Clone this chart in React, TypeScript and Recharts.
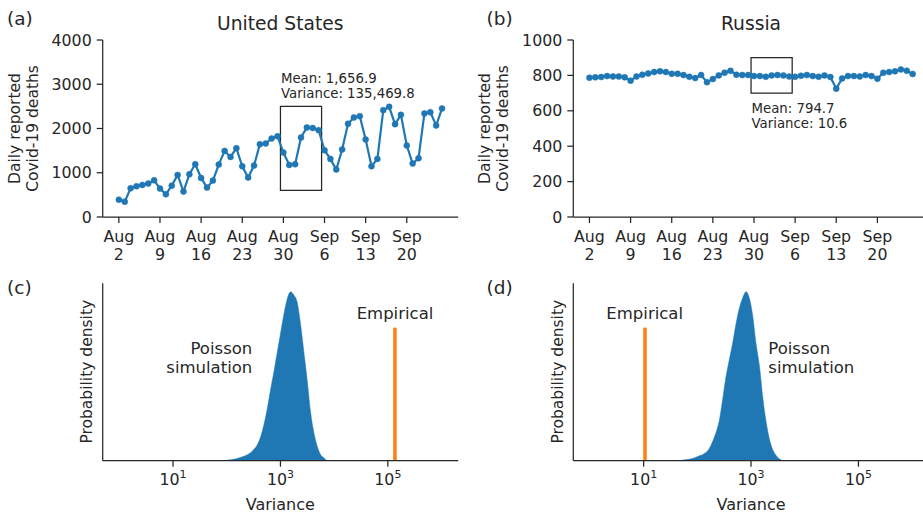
import {
  LineChart,
  Line,
  AreaChart,
  Area,
  XAxis,
  YAxis,
  ReferenceArea,
  ReferenceLine,
} from "recharts";

const FONT = "DejaVu Sans";
const INK = "#262626";
const BLUE = "#1f77b4";
const ORANGE = "#ff7f0e";

// daily reported deaths, Aug 2 .. Sep 26
const US_DEATHS = [
  392, 347, 649, 694, 725, 755, 830, 642, 513, 709, 951, 574, 966, 1192, 883,
  664, 823, 1185, 1494, 1358, 1555, 1147, 891, 1162, 1645, 1660, 1774, 1826,
  1457, 1177, 1192, 1796, 2023, 2010, 1962, 1509, 1313, 1072, 1525, 2106, 2249,
  2279, 1751, 1147, 1313, 2415, 2491, 2098, 2309, 1615, 1208, 1328, 2340, 2370,
  2068, 2453,
];
const RU_DEATHS = [
  787, 789, 791, 796, 794, 794, 789, 770, 794, 804, 811, 819, 823, 819, 809,
  809, 802, 792, 785, 802, 762, 779, 800, 815, 826, 804, 802, 802, 796, 796,
  792, 800, 802, 800, 794, 792, 798, 802, 796, 792, 800, 791, 725, 783, 796,
  796, 794, 802, 796, 781, 815, 819, 823, 834, 826, 808,
];

const X_TICK_DAYS = [0, 7, 14, 21, 28, 35, 42, 49];
const X_TICK_LABELS = [
  ["Aug", "2"],
  ["Aug", "9"],
  ["Aug", "16"],
  ["Aug", "23"],
  ["Aug", "30"],
  ["Sep", "6"],
  ["Sep", "13"],
  ["Sep", "20"],
];
const US_Y_TICKS = [0, 1000, 2000, 3000, 4000];
const RU_Y_TICKS = [0, 200, 400, 600, 800, 1000];

// highlighted week (day index), Aug 30 .. Sep 5
const WINDOW = [28, 34];
const US_BOX_Y = [600, 2500];
const RU_BOX_Y = [700, 900];
const US_STATS = ["Mean: 1,656.9", "Variance: 135,469.8"];
const RU_STATS = ["Mean: 794.7", "Variance: 10.6"];

// simulated variance histogram (log10 of variance, density scaled to peak)
const US_SIM_LOGVAR = [
  2.01, 2.13, 2.22, 2.32, 2.41, 2.5, 2.57, 2.63, 2.69, 2.75, 2.81, 2.88, 2.94,
  3.0, 3.06, 3.12, 3.19, 3.25, 3.31, 3.37, 3.43, 3.5, 3.56, 3.62, 3.68, 3.74,
  3.81, 3.86,
];
const US_SIM_DENSITY = [
  0.004, 0.008, 0.016, 0.026, 0.04, 0.065, 0.095, 0.14, 0.21, 0.3, 0.41, 0.53,
  0.64, 0.75, 0.86, 0.95, 1.0, 0.98, 0.94, 0.82, 0.66, 0.47, 0.29, 0.17, 0.09,
  0.04, 0.016, 0,
];
const RU_SIM_LOGVAR = [
  1.72, 1.84, 1.94, 2.03, 2.12, 2.22, 2.28, 2.34, 2.41, 2.47, 2.53, 2.59, 2.66,
  2.72, 2.78, 2.84, 2.91, 2.97, 3.03, 3.09, 3.16, 3.22, 3.28, 3.34, 3.41, 3.47,
  3.53, 3.59,
];
const RU_SIM_DENSITY = [
  0.004, 0.008, 0.016, 0.028, 0.04, 0.07, 0.11, 0.16, 0.24, 0.36, 0.49, 0.59,
  0.7, 0.81, 0.9, 0.96, 1.0, 0.96, 0.86, 0.7, 0.55, 0.37, 0.23, 0.13, 0.06,
  0.03, 0.01, 0,
];
const US_EMPIRICAL_VAR = 135469.8;
const RU_EMPIRICAL_VAR = 10.6;
const POW_TICKS = [1, 3, 5];

const usRows = US_DEATHS.map((v, i) => ({ day: i, deaths: v }));
const ruRows = RU_DEATHS.map((v, i) => ({ day: i, deaths: v }));
const usHist = US_SIM_LOGVAR.map((x, i) => ({ x, d: US_SIM_DENSITY[i] }));
const ruHist = RU_SIM_LOGVAR.map((x, i) => ({ x, d: RU_SIM_DENSITY[i] }));

const DAY_DOMAIN = [-2.75, 57.75];
const LOG_DOMAIN = [-0.31, 6.31];
const HIST_TOP = 1.05;

const tickStyle = { fill: INK, fontSize: 15.8, fontFamily: FONT };

function DateTick(props: any) {
  const { x, y, payload } = props;
  const [m, d] = X_TICK_LABELS[X_TICK_DAYS.indexOf(payload.value)] || ["", ""];
  return (
    <text x={x} y={y} textAnchor="middle" {...tickStyle}>
      <tspan x={x} dy={17}>
        {m}
      </tspan>
      <tspan x={x} dy={17.5}>
        {d}
      </tspan>
    </text>
  );
}

function PowTick(props: any) {
  const { x, y, payload } = props;
  return (
    <text x={x} y={y + 16.3} textAnchor="middle" {...tickStyle}>
      10
      <tspan dy={-7} fontSize={11}>
        {payload.value}
      </tspan>
    </text>
  );
}

function statsLabel(lines: string[], above: boolean) {
  return (p: any) => {
    const vb = p.viewBox || {};
    const base = above ? vb.y - 23.3 : vb.y + vb.height + 20.3;
    return (
      <text fill={INK} fontSize={13.3} fontFamily={FONT}>
        <tspan x={vb.x + 0.5} y={base}>
          {lines[0]}
        </tspan>
        <tspan x={vb.x + 0.5} y={base + 14.5}>
          {lines[1]}
        </tspan>
      </text>
    );
  };
}

function DeathsPanel({
  rows,
  ticks,
  yMax,
  boxY,
  stats,
  above,
  yWidth,
}: {
  rows: { day: number; deaths: number }[];
  ticks: number[];
  yMax: number;
  boxY: number[];
  stats: string[];
  above: boolean;
  yWidth: number;
}) {
  return (
    <LineChart
      width={470}
      height={265}
      data={rows}
      margin={{ top: 40, right: 470 - yWidth - 355.5, bottom: 8, left: 0 }}
    >
      <XAxis
        dataKey="day"
        type="number"
        domain={DAY_DOMAIN}
        allowDataOverflow
        ticks={X_TICK_DAYS}
        interval={0}
        tick={<DateTick />}
        tickSize={6}
        tickMargin={2}
        height={40}
        stroke={INK}
        strokeWidth={1.25}
      />
      <YAxis
        type="number"
        domain={[0, yMax]}
        ticks={ticks}
        interval={0}
        width={yWidth}
        tick={tickStyle}
        tickSize={6}
        tickMargin={5}
        stroke={INK}
        strokeWidth={1.25}
      />
      <ReferenceArea
        x1={WINDOW[0] - 0.5}
        x2={WINDOW[1] + 0.5}
        y1={boxY[0]}
        y2={boxY[1]}
        fill="none"
        stroke={INK}
        strokeWidth={1.25}
        fillOpacity={0}
        label={statsLabel(stats, above)}
      />
      <Line
        dataKey="deaths"
        stroke={BLUE}
        strokeWidth={2.2}
        dot={{ r: 3, fill: BLUE, stroke: BLUE, strokeWidth: 0.5 }}
        activeDot={false}
        isAnimationActive={false}
      />
    </LineChart>
  );
}

function HistPanel({
  rows,
  empirical,
  yWidth,
}: {
  rows: { x: number; d: number }[];
  empirical: number;
  yWidth: number;
}) {
  const ex = Math.log10(empirical);
  return (
    <AreaChart
      width={470}
      height={247}
      data={rows}
      margin={{ top: 13.3, right: 470 - yWidth - 355.5, bottom: 6.3, left: 0 }}
    >
      <XAxis
        dataKey="x"
        type="number"
        domain={LOG_DOMAIN}
        allowDataOverflow
        ticks={POW_TICKS}
        interval={0}
        tick={<PowTick />}
        tickSize={6}
        tickMargin={2}
        height={50}
        stroke={INK}
        strokeWidth={1.25}
      />
      <YAxis
        type="number"
        domain={[0, HIST_TOP]}
        allowDataOverflow
        tick={false}
        tickLine={false}
        width={yWidth}
        stroke={INK}
        strokeWidth={1.25}
      />
      <Area
        dataKey="d"
        type="monotone"
        stroke={BLUE}
        strokeWidth={0.5}
        fill={BLUE}
        fillOpacity={1}
        dot={false}
        activeDot={false}
        isAnimationActive={false}
      />
      <ReferenceLine
        segment={[
          { x: ex, y: 0 },
          { x: ex, y: HIST_TOP * 0.75 },
        ]}
        stroke={ORANGE}
        strokeWidth={3.5}
      />
    </AreaChart>
  );
}

function Txt(props: any) {
  const { children, ...rest } = props;
  return (
    <text fill={INK} fontFamily={FONT} fontSize={15.5} {...rest}>
      {children}
    </text>
  );
}

function RotLabel({ x, y, text }: { x: number; y: number; text: string }) {
  return (
    <Txt x={x} y={y} textAnchor="middle" transform={`rotate(-90 ${x} ${y})`}>
      {text}
    </Txt>
  );
}

export default function App() {
  return (
    <div
      style={{
        position: "absolute",
        left: 0,
        top: 0,
        width: 923,
        height: 517,
        overflow: "hidden",
        background: "#fff",
      }}
    >
      <div style={{ position: "absolute", left: 0, top: 0 }}>
        <DeathsPanel
          rows={usRows}
          ticks={US_Y_TICKS}
          yMax={4000}
          boxY={US_BOX_Y}
          stats={US_STATS}
          above
          yWidth={102.7}
        />
      </div>
      <div style={{ position: "absolute", left: 470, top: 0 }}>
        <DeathsPanel
          rows={ruRows}
          ticks={RU_Y_TICKS}
          yMax={1000}
          boxY={RU_BOX_Y}
          stats={RU_STATS}
          above={false}
          yWidth={103.3}
        />
      </div>
      <div style={{ position: "absolute", left: 0, top: 270 }}>
        <HistPanel rows={usHist} empirical={US_EMPIRICAL_VAR} yWidth={102.7} />
      </div>
      <div style={{ position: "absolute", left: 470, top: 270 }}>
        <HistPanel rows={ruHist} empirical={RU_EMPIRICAL_VAR} yWidth={103.3} />
      </div>
      <svg
        width={923}
        height={517}
        style={{ position: "absolute", left: 0, top: 0, pointerEvents: "none" }}
      >
        <Txt x={7} y={25} fontSize={18.5}>(a)</Txt>
        <Txt x={486.5} y={25} fontSize={18.5}>(b)</Txt>
        <Txt x={7} y={294} fontSize={18.5}>(c)</Txt>
        <Txt x={486.5} y={294} fontSize={18.5}>(d)</Txt>
        <Txt x={280.3} y={30} fontSize={18.7} textAnchor="middle">
          United States
        </Txt>
        <Txt x={751} y={30} fontSize={18.7} textAnchor="middle">
          Russia
        </Txt>
        <RotLabel x={20} y={128.5} text="Daily reported" />
        <RotLabel x={38} y={128.5} text="Covid-19 deaths" />
        <RotLabel x={490} y={128.5} text="Daily reported" />
        <RotLabel x={508} y={128.5} text="Covid-19 deaths" />
        <RotLabel x={92} y={371.7} text="Probability density" />
        <RotLabel x={562.7} y={371.7} text="Probability density" />
        <Txt x={395} y={319} fontSize={16.5} textAnchor="middle">Empirical</Txt>
        <Txt x={644.7} y={319} fontSize={16.5} textAnchor="middle">Empirical</Txt>
        <Txt x={252.3} y={354} fontSize={16.5} textAnchor="end">Poisson</Txt>
        <Txt x={252.3} y={372.5} fontSize={16.5} textAnchor="end">simulation</Txt>
        <Txt x={768.3} y={354} fontSize={16.5}>Poisson</Txt>
        <Txt x={768.3} y={372.5} fontSize={16.5}>simulation</Txt>
        <Txt x={280.3} y={509.5} fontSize={16} textAnchor="middle">Variance</Txt>
        <Txt x={751} y={509.5} fontSize={16} textAnchor="middle">Variance</Txt>
      </svg>
    </div>
  );
}
